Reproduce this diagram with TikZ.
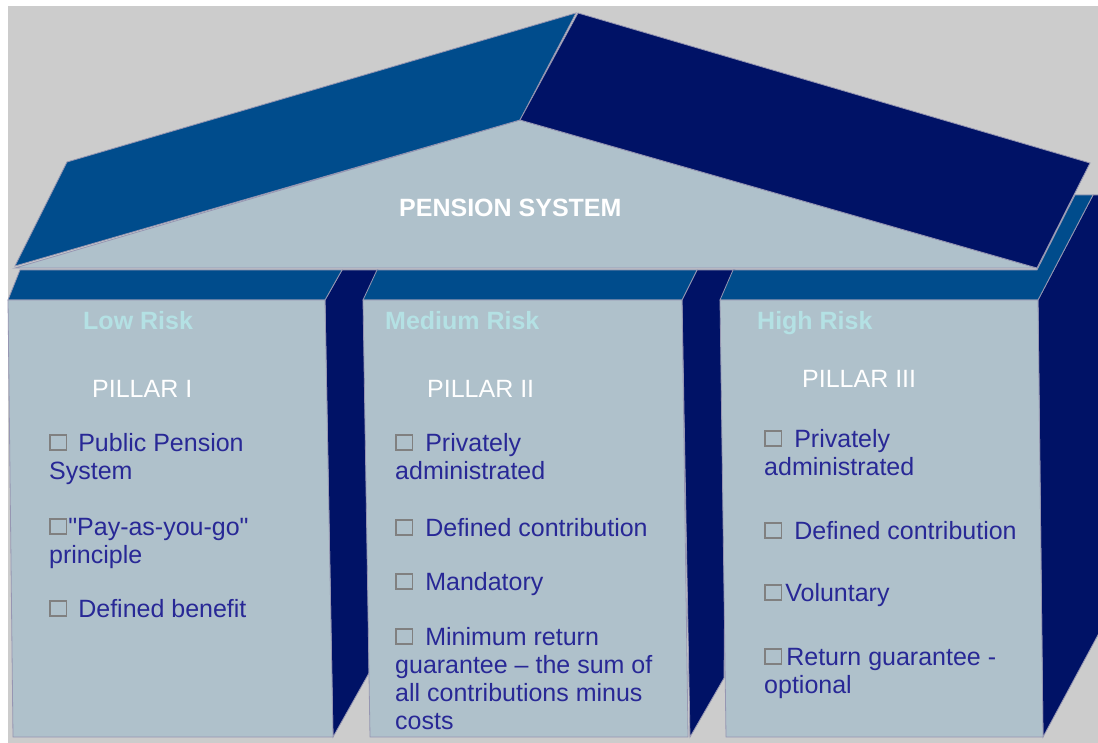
\documentclass[tikz,border=0pt]{standalone}
\usepackage{fontspec}
\setmainfont{Liberation Sans}
\definecolor{bggray}{RGB}{204,204,204}
\definecolor{roofblue}{RGB}{0,76,140}
\definecolor{navy}{RGB}{0,18,102}
\definecolor{facegray}{RGB}{175,193,203}
\definecolor{edgegray}{RGB}{150,150,178}
\definecolor{riskcyan}{RGB}{180,225,228}
\definecolor{itemblue}{RGB}{40,40,150}
\definecolor{boxgray}{RGB}{128,128,128}
\newcommand{\chk}[1]{\raisebox{1.7pt}{\color{boxgray}\fboxrule=1.8pt\fboxsep=0pt\fbox{\rule{0pt}{13.5pt}\rule{14.5pt}{0pt}}}\hspace{#1}}

\begin{document}
\begin{tikzpicture}[x=1pt,y=-1pt,
  face/.style={fill=facegray,draw=edgegray,line width=0.8pt},
  band/.style={fill=roofblue,draw=edgegray,line width=0.8pt},
  side/.style={fill=navy,draw=edgegray,line width=0.8pt},
  risk/.style={anchor=base west,inner sep=0pt,text=riskcyan,font=\fontsize{25}{28}\selectfont\bfseries},
  pillar/.style={anchor=base west,inner sep=0pt,text=white,font=\fontsize{25}{28}\selectfont},
  item/.style={anchor=base west,inner sep=0pt,text=itemblue,align=left,font=\fontsize{25}{28}\selectfont}]
  \useasboundingbox (0,0) rectangle (1098,743);
  \fill[white] (0,0) rectangle (1098,743);
  \fill[bggray] (8,6) rectangle (1098,743);
  \filldraw[face] (15,268) -- (520,120) -- (1037,268) -- cycle;
  \filldraw[band] (15,266) -- (67,162) -- (576,13) -- (520,120) -- cycle;
  \filldraw[side] (578,13) -- (1090,163) -- (1037,268) -- (520,120) -- cycle;
  \filldraw[side] (325,300) -- (342,270) -- (378,270) -- (370,300) -- (369,673) -- (333,737) -- cycle;
  \filldraw[side] (682,300) -- (697,270) -- (735,270) -- (727,300) -- (724,678) -- (690,737) -- cycle;
  \filldraw[side] (1038,300) -- (1093,195) -- (1099,195) -- (1099,633) -- (1043,737) -- cycle;
  \filldraw[band] (8,300) -- (20,270) -- (342,270) -- (325,300) -- cycle;
  \filldraw[band] (363,300) -- (377,270) -- (697,270) -- (682,300) -- cycle;
  \filldraw[band] (720,300) -- (733,270) -- (1037,270) -- (1075,195) -- (1093,195) -- (1038,300) -- cycle;
  \filldraw[face] (8,300) -- (325,300) -- (333,737) -- (13,737) -- cycle;
  \filldraw[face] (363,300) -- (682,300) -- (688,737) -- (370,737) -- cycle;
  \filldraw[face] (720,300) -- (1038,300) -- (1043,737) -- (726,737) -- cycle;
  \node[pillar,font=\fontsize{25}{28}\selectfont\bfseries] (title) at (399,217) {PENSION SYSTEM};
  \node[risk] (low) at (83,330) {Low Risk};
  \node[risk] (medium) at (385,330) {Medium Risk};
  \node[risk] (high) at (757,330) {High Risk};
  \node[pillar] (p1) at (92,397) {PILLAR I};
  \node[pillar] (p2) at (427,397) {PILLAR II};
  \node[pillar] (p3) at (802,388) {PILLAR III};
  \node[item] (p1a) at (49,479) {\chk{11pt}Public Pension\\System};
  \node[item] (p1b) at (49,563) {\chk{1pt}\textquotedbl Pay-as-you-go\textquotedbl\\principle};
  \node[item] (p1c) at (49,617) {\chk{11pt}Defined benefit};
  \node[item] (p2a) at (395,479) {\chk{12pt}Privately\\administrated};
  \node[item] (p2b) at (395,536) {\chk{12pt}Defined contribution};
  \node[item] (p2c) at (395,590) {\chk{12pt}Mandatory};
  \node[item] (p2d) at (395,729) {\chk{12pt}Minimum return\\guarantee – the sum of\\all contributions minus\\costs};
  \node[item] (p3a) at (764,475) {\chk{12pt}Privately\\administrated};
  \node[item] (p3b) at (764,539) {\chk{12pt}Defined contribution};
  \node[item] (p3c) at (764,601) {\chk{3pt}Voluntary};
  \node[item] (p3d) at (764,693) {\chk{4pt}Return guarantee -\\optional};
\end{tikzpicture}
\end{document}
